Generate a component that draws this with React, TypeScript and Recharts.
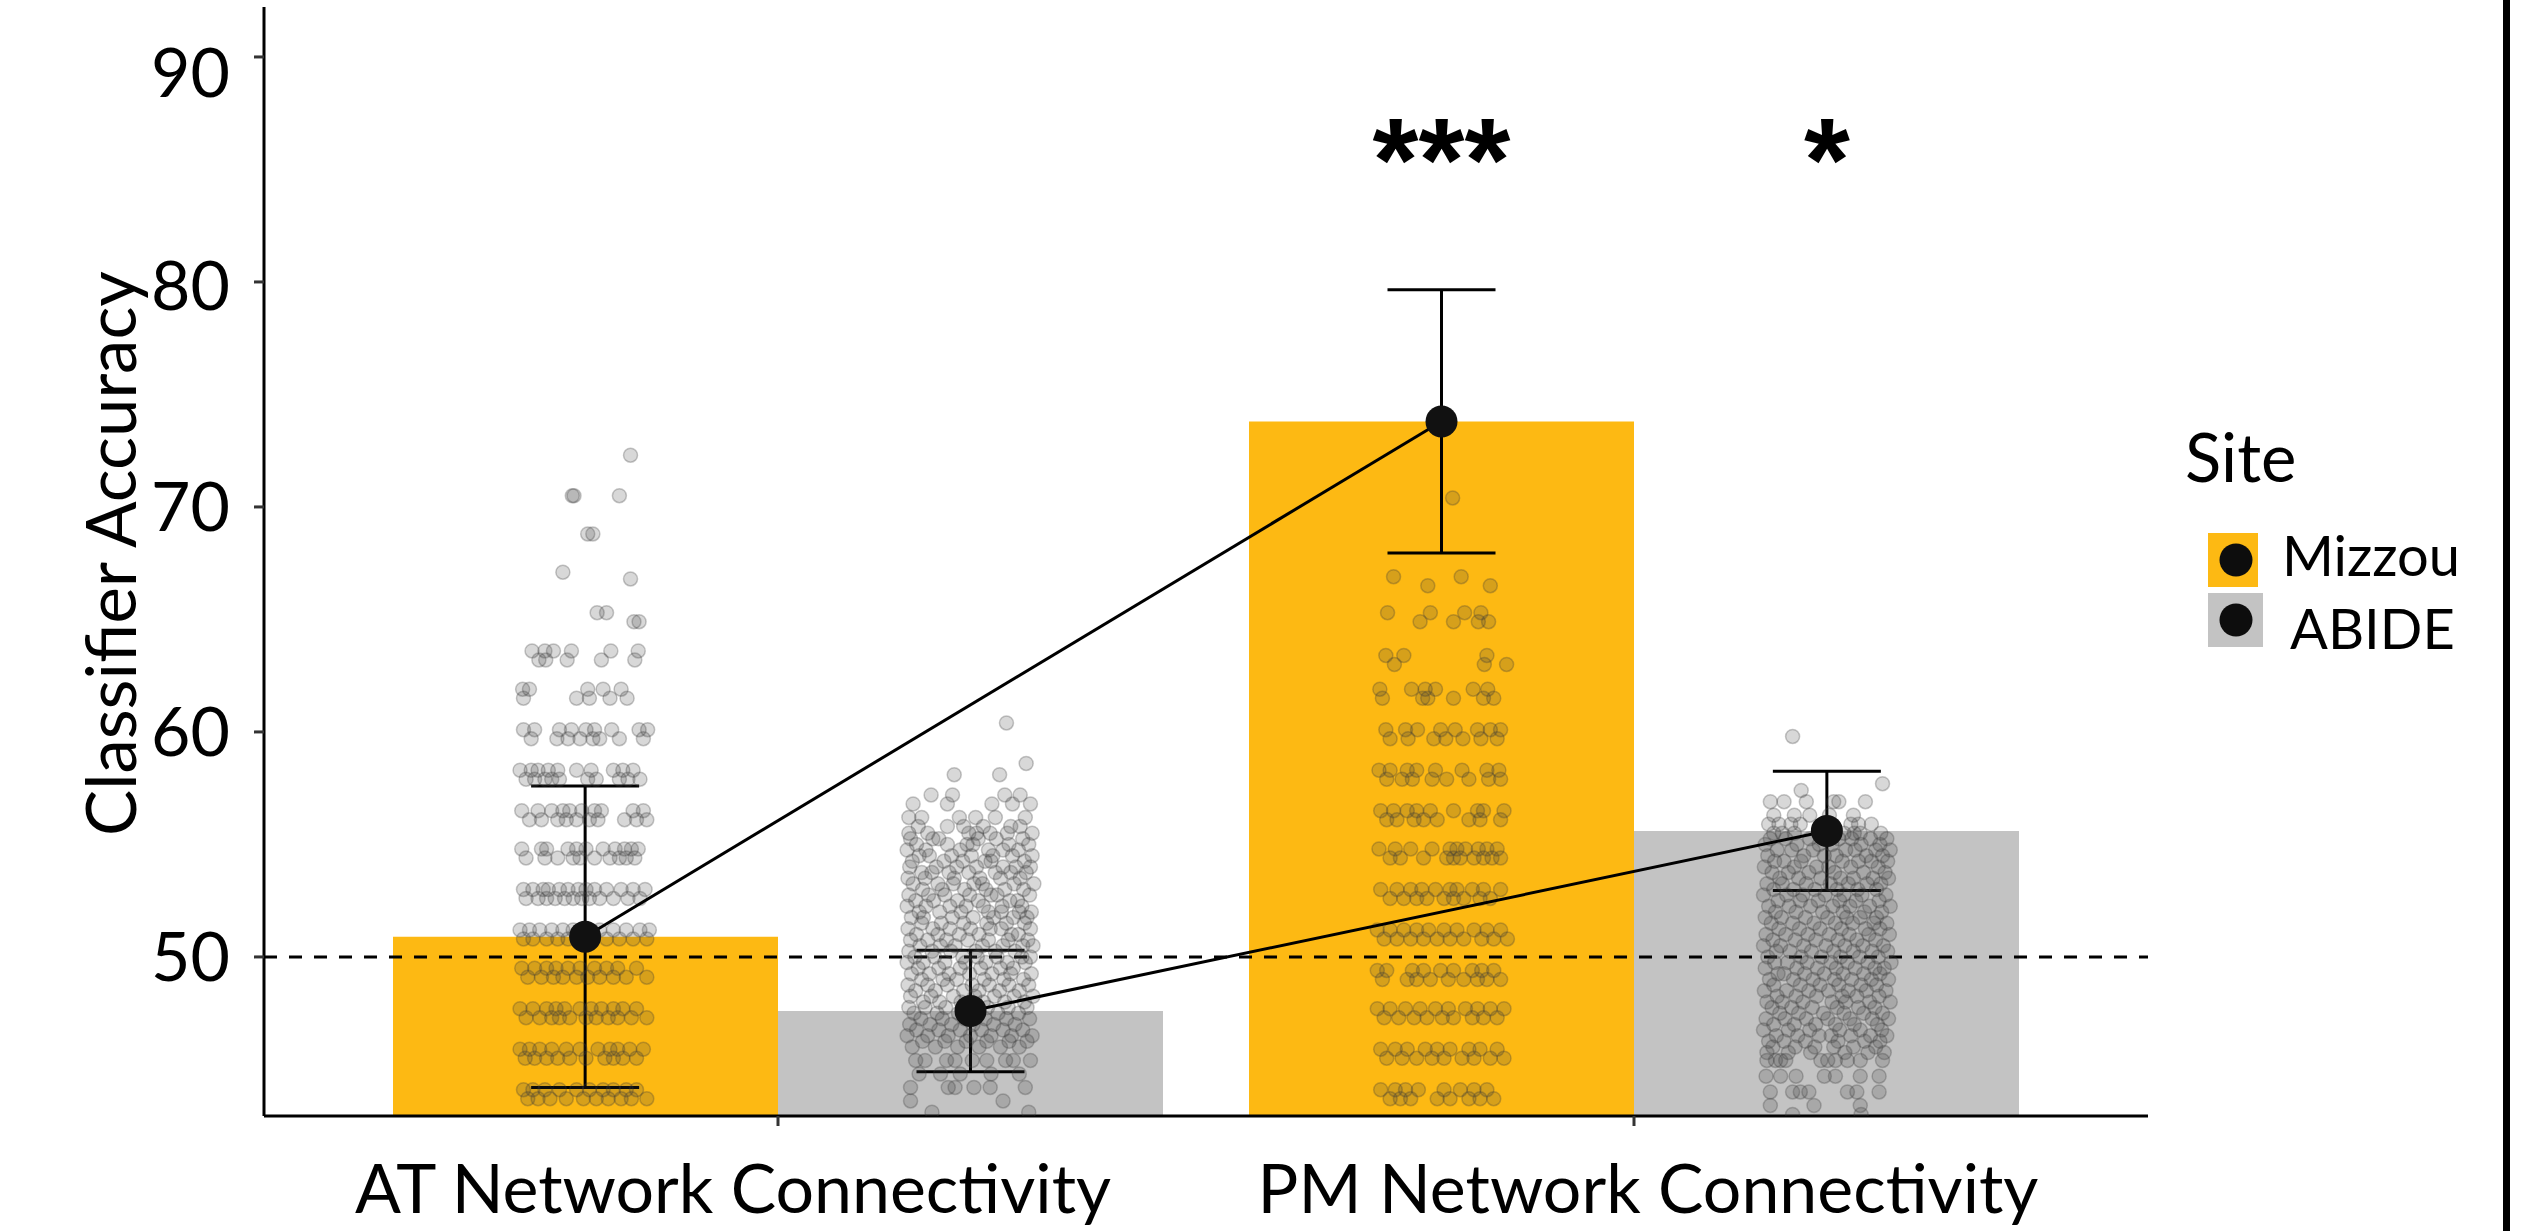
import {
  ComposedChart,
  Bar,
  Scatter,
  XAxis,
  YAxis,
  ReferenceLine,
  ErrorBar,
  Legend,
} from "recharts";

const networks = ["AT Network Connectivity", "PM Network Connectivity"];
const sites = ["Mizzou", "ABIDE"];
const siteColors = ["#FDB913", "#C3C3C3"];

// observed accuracy (bar height and mean dot) per network
const mizzouAccuracy = [50.9, 73.8];
const abideAccuracy = [47.6, 55.6];
// half-length of each error bar
const mizzouError = [6.7, 5.85];
const abideError = [2.7, 2.65];

const yTicks = [50, 60, 70, 80, 90];
const chanceLevel = 50;

// significance markers drawn over the PM bars
const starMarks = ["***", "*"];
const starLevel = 83.6;

// permutation accuracies: [accuracy, horizontal jitter in thousandths of a category]
type JitterRow = [number, number[]];

const mizzouAtRuns: JitterRow[] = [
  [72.3, [53]],
  [70.5, [-15, -13, 40]],
  [68.8, [3, 9]],
  [67.1, [-26]],
  [66.8, [53]],
  [65.3, [14, 25]],
  [64.9, [57, 63]],
  [63.6, [-62, -47, -37, -16, 30, 62]],
  [63.2, [-54, -46, -21, 19, 58]],
  [61.9, [-73, -65, 3, 21, 42]],
  [61.5, [-72, -10, 5, 29, 49]],
  [60.1, [-72, -59, -30, -16, 1, 11, 31, 63, 73]],
  [59.7, [-63, -33, -20, -6, 9, 17, 40, 68]],
  [58.3, [-76, -63, -55, -43, -32, -10, 7, 33, 44, 56]],
  [57.9, [-69, -59, -47, -39, -30, 3, 13, 40, 50, 64]],
  [56.5, [-74, -55, -39, -26, -18, -4, 11, 19, 56, 68]],
  [56.1, [-65, -51, -32, -22, -10, 5, 15, 46, 60, 72]],
  [54.8, [-74, -51, -45, -20, -10, 1, 21, 35, 46, 54, 62]],
  [54.4, [-69, -47, -32, -14, -6, 11, 29, 40, 48, 58]],
  [53.0, [-72, -61, -49, -43, -30, -20, -8, 1, 11, 25, 42, 56, 70]],
  [52.6, [-69, -55, -45, -35, -24, -14, -4, 5, 17, 33, 50, 64]],
  [51.2, [-76, -65, -53, -39, -26, -14, 1, 17, 33, 48, 64, 75]],
  [50.8, [-72, -61, -45, -32, -20, -6, 9, 25, 40, 56, 72]],
  [49.5, [-74, -59, -45, -34, -20, -6, 11, 25, 38, 60]],
  [49.1, [-67, -51, -37, -26, -10, 3, 17, 33, 48, 72]],
  [47.7, [-76, -61, -45, -34, -24, -6, 7, 19, 33, 44, 60]],
  [47.3, [-69, -53, -39, -30, -18, 1, 13, 27, 38, 54, 72]],
  [45.9, [-76, -65, -53, -39, -22, -6, 15, 29, 38, 52, 68]],
  [45.5, [-70, -59, -45, -32, -18, 1, 23, 33, 44, 60]],
  [44.1, [-72, -61, -47, -30, -10, 5, 21, 33, 48, 60]],
  [43.7, [-67, -55, -41, -22, -2, 13, 27, 42, 54, 72]],
];

const abideAtRuns: JitterRow[] = [
  [60.4, [42]],
  [58.6, [65]],
  [58.1, [-19, 34]],
  [57.2, [-46, -21, 40, 58]],
  [56.8, [-67, -27, 25, 49, 70]],
  [56.2, [-72, -57, -13, 6, 29, 64]],
  [55.8, [-61, -27, -8, 15, 47, 58]],
  [55.5, [-72, -50, -2, 7, 23, 43, 72]],
  [55.25, [-70, -44, -37, 9, 30, 61]],
  [55.0, [-63, -27, -4, 3, 45, 68]],
  [54.75, [-74, -52, -12, 21, 38, 56]],
  [54.5, [-60, -48, -22, 1, 26, 49, 72]],
  [54.25, [-68, -31, -9, 17, 24, 63]],
  [54.0, [-71, -40, -16, 7, 38, 53, 70]],
  [53.75, [-57, -45, -25, -2, 29, 47, 65]],
  [53.5, [-73, -53, -19, 11, 35, 58]],
  [53.25, [-67, -38, -20, 4, 14, 51, 74]],
  [53.0, [-56, -33, -7, 18, 40, 62]],
  [52.75, [-72, -49, -30, -1, 24, 31, 69]],
  [52.5, [-64, -43, -15, 9, 46, 55]],
  [52.25, [-74, -52, -24, -5, 15, 37, 60]],
  [52.0, [-60, -36, -11, 21, 36, 57, 71]],
  [51.75, [-69, -55, -21, 3, 27, 50, 66]],
  [51.5, [-57, -34, -8, 19, 42, 63]],
  [51.25, [-73, -44, -24, 0, 23, 36, 70]],
  [51.0, [-63, -38, -13, 10, 48, 56]],
  [50.75, [-70, -50, -28, -3, 21, 44, 67]],
  [50.5, [-59, -35, -18, 14, 38, 61, 73]],
  [50.25, [-72, -45, -23, 6, 29, 52]],
  [50.0, [-65, -42, -9, 8, 31, 60, 70]],
  [49.75, [-74, -55, -30, -6, 18, 43, 64]],
  [49.5, [-61, -37, -12, 12, 35, 50]],
  [49.25, [-69, -48, -25, -1, 25, 47, 71]],
  [49.0, [-57, -32, -16, 16, 39, 62]],
  [48.75, [-73, -50, -27, 2, 22, 45, 68]],
  [48.5, [-64, -41, -8, 10, 34, 57]],
  [48.25, [-70, -46, -20, 5, 28, 51, 73]],
  [48.0, [-55, -36, -11, 15, 40, 63]],
  [47.75, [-72, -53, -29, -4, 20, 44, 66]],
  [47.5, [-66, -39, -14, 9, 32, 56]],
  [47.25, [-58, -33, -7, 17, 42, 69]],
  [47.0, [-71, -47, -22, 3, 27, 52]],
  [46.75, [-63, -37, -12, 13, 38, 61]],
  [46.5, [-74, -50, -26, 0, 24, 48, 72]],
  [46.25, [-56, -30, -5, 19, 45, 66]],
  [46.0, [-68, -41, -15, 10, 35, 57]],
  [45.4, [-64, -53, -28, -18, 2, 19, 41, 50, 70]],
  [44.8, [-60, -35, -12, 24, 57]],
  [44.2, [-70, -26, -18, 4, 23, 64]],
  [43.6, [-70, 38]],
  [43.1, [-45, 68]],
];

const mizzouPmRuns: JitterRow[] = [
  [70.4, [13]],
  [66.9, [-56, 23]],
  [66.5, [-16, 57]],
  [65.3, [-63, -13, 27, 46]],
  [64.9, [-25, 14, 43, 55]],
  [63.4, [-65, -44, 53]],
  [63.0, [-55, 50, 76]],
  [61.9, [-72, -35, -19, -7, 37, 54]],
  [61.5, [-69, -22, -16, 14, 49, 61]],
  [60.1, [-65, -42, -28, -1, 16, 42, 57, 69]],
  [59.7, [-60, -39, -9, 5, 25, 46, 65]],
  [58.3, [-73, -60, -40, -29, -7, 24, 53, 67]],
  [57.9, [-64, -46, -34, -11, 6, 32, 55, 69]],
  [56.5, [-71, -56, -40, -29, -13, 14, 42, 49, 73]],
  [56.1, [-64, -52, -32, -21, -5, 32, 45, 69]],
  [54.8, [-73, -54, -36, -11, 10, 18, 28, 43, 53, 65]],
  [54.4, [-60, -48, -21, 6, 14, 22, 38, 49, 59, 69]],
  [53.0, [-71, -52, -36, -23, -7, 10, 18, 36, 49, 69]],
  [52.6, [-60, -44, -29, -17, 3, 14, 26, 45, 57]],
  [51.2, [-75, -60, -44, -29, -15, 3, 18, 38, 53, 69]],
  [50.8, [-67, -52, -36, -21, -5, 10, 26, 47, 61, 77]],
  [49.4, [-75, -64, -34, -21, -1, 14, 36, 47, 61]],
  [49.0, [-69, -40, -29, -13, 8, 26, 42, 53, 69]],
  [47.7, [-75, -60, -42, -25, -7, 8, 28, 42, 57, 73]],
  [47.3, [-67, -50, -32, -17, 1, 14, 36, 49, 65]],
  [45.9, [-71, -54, -40, -19, -5, 10, 32, 45, 65]],
  [45.5, [-64, -46, -29, -11, 3, 24, 38, 57, 73]],
  [44.1, [-71, -54, -42, -27, 3, 22, 38, 53]],
  [43.7, [-60, -48, -36, -5, 10, 32, 45, 61]],
];

const abidePmRuns: JitterRow[] = [
  [59.8, [-40]],
  [57.7, [65]],
  [57.4, [-30]],
  [56.9, [-66, -50, -24, 8, 14, 45]],
  [56.3, [-62, -38, -20, 3, 31]],
  [55.9, [-68, -56, -42, -31, 28, 37, 52]],
  [55.5, [-62, -52, -38, -7, 4, 20, 32, 39, 63]],
  [55.25, [-66, -48, -20, 14, 29, 51, 70]],
  [55.0, [-72, -35, -9, 6, 40, 62]],
  [54.75, [-58, -41, -16, 22, 33, 57, 74]],
  [54.5, [-69, -27, -3, 11, 46, 65]],
  [54.25, [-61, -50, -30, 18, 37, 52, 71]],
  [54.0, [-73, -38, -12, 2, 28, 60]],
  [53.75, [-64, -45, -21, 9, 43, 68]],
  [53.5, [-55, -33, -7, 16, 31, 54, 72]],
  [53.25, [-70, -52, -24, 4, 25, 47, 63]],
  [53.0, [-62, -39, -14, 12, 36, 58]],
  [52.75, [-74, -47, -28, -2, 20, 41, 69]],
  [52.5, [-57, -31, -10, 15, 34, 61]],
  [52.25, [-68, -44, -19, 7, 27, 50, 74]],
  [52.0, [-60, -36, -5, 19, 44, 64]],
  [51.75, [-72, -53, -25, 1, 23, 39, 58]],
  [51.5, [-65, -40, -15, 10, 30, 55, 70]],
  [51.25, [-56, -32, -8, 17, 45, 62]],
  [51.0, [-71, -48, -22, 3, 26, 49, 73]],
  [50.75, [-63, -37, -13, 13, 35, 57]],
  [50.5, [-74, -54, -27, -1, 21, 42, 66]],
  [50.25, [-59, -43, -18, 8, 31, 53, 71]],
  [50.0, [-69, -30, -6, 16, 38, 60]],
  [49.75, [-61, -46, -23, 5, 24, 48, 75]],
  [49.5, [-72, -35, -11, 11, 33, 56, 67]],
  [49.25, [-57, -50, -26, -3, 19, 43, 62]],
  [49.0, [-67, -39, -16, 9, 29, 52, 72]],
  [48.75, [-62, -31, -8, 14, 40, 58]],
  [48.5, [-73, -47, -21, 2, 25, 46, 69]],
  [48.25, [-58, -36, -12, 18, 35, 61]],
  [48.0, [-70, -52, -28, 6, 22, 50, 74]],
  [47.75, [-64, -41, -17, 12, 37, 56]],
  [47.5, [-55, -33, -4, 20, 43, 65]],
  [47.25, [-71, -49, -24, 1, 27, 53, 72]],
  [47.0, [-62, -38, -13, 10, 32, 59]],
  [46.75, [-74, -45, -20, 15, 39, 64]],
  [46.5, [-59, -34, -9, 5, 28, 51, 70]],
  [46.25, [-68, -50, -25, 13, 44, 62]],
  [46.0, [-63, -37, -14, 8, 31, 57]],
  [45.75, [-70, -45, -19, 21, 48, 67]],
  [45.4, [-70, -60, -54, -48, -7, 1, 10, 24, 39, 65]],
  [44.7, [-71, -54, -36, -3, 10, 39, 61]],
  [44.0, [-66, -40, -31, -21, 24, 35, 61]],
  [43.4, [-66, -15, 39]],
  [43.0, [-40, 40]],
];

const FONT = "Lato, 'Open Sans', sans-serif";
const DODGE = 0.225; // half of a dodged bar, in category units

// per-label nudges for the axis text
const tickNudge: Record<number, number> = { 90: 16, 80: 4 };
const networkLabelShift = [-45, 14];

const barRows = networks.map((network, i) => ({
  network,
  Mizzou: mizzouAccuracy[i],
  ABIDE: abideAccuracy[i],
}));

const spread = (rows: JitterRow[], center: number) =>
  rows.flatMap(([y, offsets]) => offsets.map((o) => ({ x: center + o / 1000, y })));

const jitterSets = [
  spread(mizzouAtRuns, 1 - DODGE),
  spread(abideAtRuns, 1 + DODGE),
  spread(mizzouPmRuns, 2 - DODGE),
  spread(abidePmRuns, 2 + DODGE),
];

const mizzouMeans = networks.map((_, i) => ({
  x: i + 1 - DODGE,
  y: mizzouAccuracy[i],
  err: mizzouError[i],
}));
const abideMeans = networks.map((_, i) => ({
  x: i + 1 + DODGE,
  y: abideAccuracy[i],
  err: abideError[i],
}));

const starPoints = [
  { x: 2 - DODGE, y: starLevel, mark: starMarks[0] },
  { x: 2 + DODGE, y: starLevel, mark: starMarks[1] },
];

const renderJitterDot = (p: any) => (
  <circle
    cx={p.cx}
    cy={p.cy}
    r={7}
    fill="#3a3a3a"
    fillOpacity={0.2}
    stroke="#3a3a3a"
    strokeOpacity={0.28}
    strokeWidth={1.5}
  />
);

const renderMeanDot = (p: any) => <circle cx={p.cx} cy={p.cy} r={16} fill="#111" />;

const renderStar = (p: any) => (
  <text
    x={p.cx}
    y={p.cy}
    textAnchor="middle"
    fontFamily="'Liberation Sans', Arial, sans-serif"
    fontWeight="bold"
    fontSize={118}
    fill="#000"
  >
    {p.payload.mark}
  </text>
);

const AccuracyTick = (props: any) => {
  const { x, y, payload } = props;
  return (
    <text
      x={x}
      y={y + 24.5 + (tickNudge[payload.value] ?? 0)}
      textAnchor="end"
      fontFamily={FONT}
      fontSize={68}
      fill="#000"
    >
      {payload.value}
    </text>
  );
};

const NetworkTick = (props: any) => {
  const { x, y, payload } = props;
  const i = networks.indexOf(payload.value);
  return (
    <text
      x={x + (networkLabelShift[i] ?? 0)}
      y={y + 87}
      textAnchor="middle"
      fontFamily={FONT}
      fontSize={68}
      fill="#000"
    >
      {payload.value}
    </text>
  );
};

const renderYTitle = (props: any) => {
  const vb = props.viewBox;
  const cx = vb.x + 136;
  const cy = vb.y + vb.height / 2 - 8;
  return (
    <text
      x={cx}
      y={cy}
      transform={`rotate(-90, ${cx}, ${cy})`}
      textAnchor="middle"
      fontFamily={FONT}
      fontSize={69}
      fill="#000"
    >
      Classifier Accuracy
    </text>
  );
};

const renderLegend = () => (
  <svg width={360} height={300} style={{ display: "block" }}>
    <text x={25} y={82} fontFamily={FONT} fontSize={67} fill="#000">
      Site
    </text>
    {sites.map((site, i) => (
      <g key={site}>
        <rect x={48} y={133 + i * 60} width={50 + i * 5} height={54} fill={siteColors[i]} />
        <circle cx={76} cy={160 + i * 60} r={16.5} fill="#0d0d0d" />
        <text x={122 + i * 8} y={176 + i * 73} fontFamily={FONT} fontSize={56} fill="#000">
          {site}
        </text>
      </g>
    ))}
  </svg>
);

export default function App() {
  return (
    <div style={{ position: "fixed", left: 0, top: 0, width: 2540, height: 1231, background: "#fff" }}>
      <ComposedChart
        width={2540}
        height={1231}
        data={barRows}
        margin={{ top: 7, right: 392, bottom: 15, left: 0 }}
        barGap={0}
      >
        <XAxis
          xAxisId="cat"
          dataKey="network"
          type="category"
          padding={{ left: 86, right: 86 }}
          height={100}
          interval={0}
          axisLine={{ stroke: "#000", strokeWidth: 3 }}
          tickLine={{ stroke: "#333", strokeWidth: 3 }}
          tickSize={10}
          tickMargin={0}
          tick={<NetworkTick />}
        />
        <XAxis xAxisId="num" type="number" dataKey="x" domain={[0.4, 2.6]} allowDataOverflow hide />
        <YAxis
          type="number"
          domain={[42.93, 92.22]}
          allowDataOverflow
          ticks={yTicks}
          width={264}
          axisLine={{ stroke: "#000", strokeWidth: 3 }}
          tickLine={{ stroke: "#333", strokeWidth: 3 }}
          tickSize={10}
          tickMargin={24}
          tick={<AccuracyTick />}
          label={renderYTitle}
        />
        <Bar xAxisId="cat" dataKey="Mizzou" fill={siteColors[0]} barSize={385} isAnimationActive={false} />
        <Bar xAxisId="cat" dataKey="ABIDE" fill={siteColors[1]} barSize={385} isAnimationActive={false} />
        <ReferenceLine
          xAxisId="cat"
          y={chanceLevel}
          stroke="#000"
          strokeWidth={3}
          strokeDasharray="13 12"
        />
        {jitterSets.map((set, i) => (
          <Scatter
            key={i}
            xAxisId="num"
            data={set}
            dataKey="y"
            shape={renderJitterDot}
            isAnimationActive={false}
          />
        ))}
        <Scatter
          xAxisId="num"
          data={mizzouMeans}
          dataKey="y"
          line={{ stroke: "#000", strokeWidth: 3 }}
          shape={renderMeanDot}
          isAnimationActive={false}
        >
          <ErrorBar dataKey="err" direction="y" width={54} stroke="#000" strokeWidth={3} />
        </Scatter>
        <Scatter
          xAxisId="num"
          data={abideMeans}
          dataKey="y"
          line={{ stroke: "#000", strokeWidth: 3 }}
          shape={renderMeanDot}
          isAnimationActive={false}
        >
          <ErrorBar dataKey="err" direction="y" width={54} stroke="#000" strokeWidth={3} />
        </Scatter>
        <Scatter xAxisId="num" data={starPoints} dataKey="y" shape={renderStar} isAnimationActive={false} />
        <Legend
          layout="horizontal"
          verticalAlign="middle"
          align="center"
          content={renderLegend}
          wrapperStyle={{ left: 2160, top: 400, width: 360, height: 300 }}
        />
      </ComposedChart>
      <div style={{ position: "absolute", left: 2503, top: 0, width: 7, height: 1231, background: "#000" }} />
    </div>
  );
}
